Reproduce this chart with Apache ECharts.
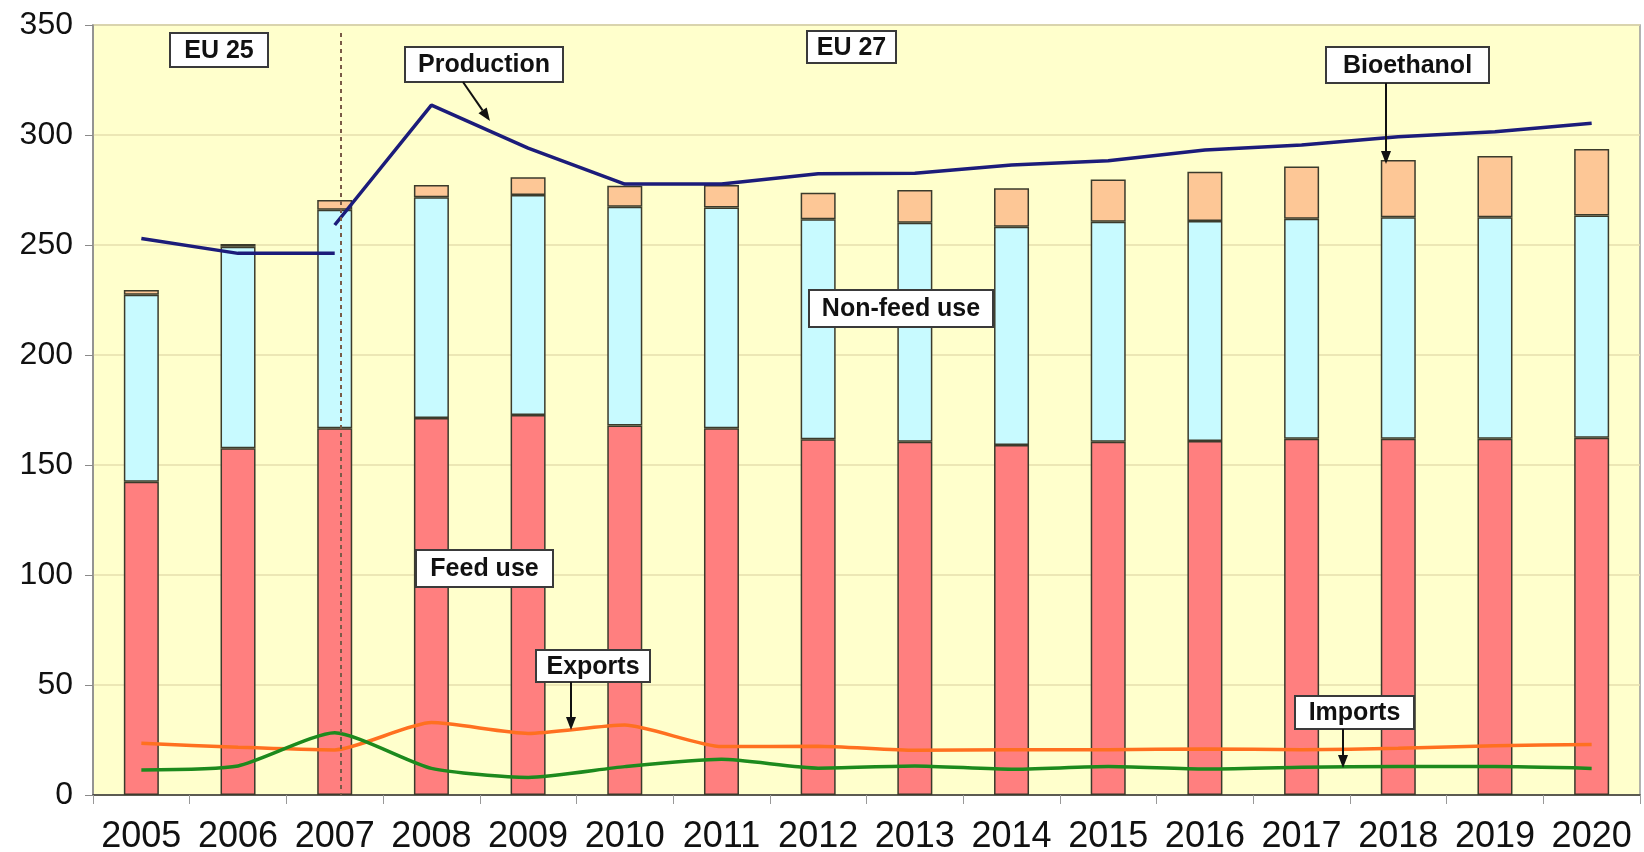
<!DOCTYPE html>
<html lang="en">
<head>
    <meta charset="UTF-8">
    <title>EU cereals use</title>
    <script src="https://cdn.jsdelivr.net/npm/echarts@6/dist/echarts.min.js"></script>
    <style>
        html, body { margin: 0; padding: 0; background: #ffffff; }
        #chart { width: 1644px; height: 852px; }
    </style>
</head>
<body>
<div id="chart"></div>
<script>
    // categories and values
    var years = ['2005', '2006', '2007', '2008', '2009', '2010', '2011', '2012',
                 '2013', '2014', '2015', '2016', '2017', '2018', '2019', '2020'];
    var feedUse = [142.4, 157.6, 166.7, 171.4, 172.7, 167.9, 166.7, 161.7,
                   160.6, 159.1, 160.6, 160.9, 161.9, 161.9, 161.9, 162.4];
    var nonFeedUse = [85, 91.6, 99.3, 100.3, 100, 99.5, 100.4, 100,
                      99.5, 99.2, 100, 100, 100, 100.7, 100.7, 101];
    var bioethanol = [2.2, 1.3, 4.5, 5.6, 8.1, 9.5, 10.2, 12.1,
                      14.9, 17.5, 19.2, 22.4, 23.8, 26, 27.9, 30.2];
    var productionEU25 = [253, 246.2, 246.2, '-', '-', '-', '-', '-',
                          '-', '-', '-', '-', '-', '-', '-', '-'];
    var productionEU27 = ['-', '-', 259.1, 313.6, 294, 277.7, 277.7, 282.4,
                          282.6, 286.4, 288.3, 293.2, 295.5, 299.2, 301.5, 305.3];
    var exportsVal = [23.5, 21.7, 20.5, 32.9, 28, 31.8, 22, 22.2,
                      20.3, 20.6, 20.6, 20.9, 20.6, 21.2, 22.4, 23];
    var importsVal = [11.4, 13.2, 28.3, 12.1, 8, 12.9, 16.2, 12.2,
                      13.2, 11.7, 12.9, 11.8, 12.6, 12.9, 12.9, 12.1];
    var yTicks = [0, 50, 100, 150, 200, 250, 300, 350];

    // text boxes on the plot: [label, x, y, w, h]
    var boxes = [
        ['EU 25', 170, 33, 98, 34],
        ['Production', 405, 47, 158, 35],
        ['EU 27', 807, 31, 89, 32],
        ['Bioethanol', 1326, 47, 163, 36],
        ['Non-feed use', 809, 290, 184, 37],
        ['Feed use', 416, 550, 137, 37],
        ['Exports', 536, 650, 114, 32],
        ['Imports', 1295, 696, 119, 33]
    ];
    // arrows: [x1, y1, x2, y2]
    var arrows = [
        [463, 82, 490, 121],
        [1386, 83, 1386, 164],
        [571, 682, 571, 730],
        [1343, 729, 1343, 768]
    ];

    var graphics = [];
    // EU25 / EU27 separator
    graphics.push({
        type: 'line', z: 5,
        shape: {x1: 341, y1: 33, x2: 341, y2: 795},
        style: {stroke: '#7a5a48', lineWidth: 2, lineDash: [4, 4]}
    });
    boxes.forEach(function (b) {
        graphics.push({
            type: 'rect', z: 20,
            shape: {x: b[1], y: b[2], width: b[3], height: b[4]},
            style: {fill: '#ffffff', stroke: '#3a3a3a', lineWidth: 2}
        });
        graphics.push({
            type: 'text', z: 21,
            x: b[1] + b[3] / 2, y: b[2] + b[4] / 2 + 1,
            style: {
                text: b[0], fill: '#111111',
                font: 'bold 25px "Liberation Sans", Arial, sans-serif',
                align: 'center', verticalAlign: 'middle'
            }
        });
    });
    arrows.forEach(function (a) {
        var dx = a[2] - a[0], dy = a[3] - a[1];
        var len = Math.sqrt(dx * dx + dy * dy);
        var ux = dx / len, uy = dy / len;
        var hl = 13, hw = 5;
        var bx = a[2] - ux * hl, by = a[3] - uy * hl;
        graphics.push({
            type: 'line', z: 20,
            shape: {x1: a[0], y1: a[1], x2: bx, y2: by},
            style: {stroke: '#111111', lineWidth: 2}
        });
        graphics.push({
            type: 'polygon', z: 20,
            shape: {points: [[a[2], a[3]], [bx - uy * hw, by + ux * hw], [bx + uy * hw, by - ux * hw]]},
            style: {fill: '#111111'}
        });
    });

    var barBorder = {borderColor: '#3b3b2c', borderWidth: 1.5};

    var chart = echarts.init(document.getElementById('chart'));
    var option = {
        backgroundColor: '#ffffff',
        animation: false,
        grid: {
            left: 93, right: 4, top: 25, bottom: 57,
            outerBoundsMode: 'none', containLabel: false,
            show: true, backgroundColor: '#FFFFCC', borderColor: '#9a9a9a', borderWidth: 1.5
        },
        xAxis: {
            type: 'category',
            data: years,
            axisLine: {lineStyle: {color: '#333333', width: 1.5}},
            axisTick: {show: true, length: 9, lineStyle: {color: '#999999'}},
            axisLabel: {
                interval: 0, margin: 24, color: '#111111',
                fontFamily: '"Liberation Sans Narrow", "Arial Narrow", "Liberation Sans", Arial, sans-serif',
                fontSize: 36
            }
        },
        yAxis: {
            type: 'value',
            min: yTicks[0], max: yTicks[yTicks.length - 1], interval: 50,
            axisLine: {show: true, lineStyle: {color: '#8a8a8a', width: 1.5}},
            axisTick: {show: true, length: 8, lineStyle: {color: '#8a8a8a'}},
            splitLine: {lineStyle: {color: '#e6dfae', width: 1.5}},
            axisLabel: {
                margin: 20, color: '#111111',
                fontFamily: '"Liberation Sans", Arial, sans-serif',
                fontSize: 32
            }
        },
        series: [
            {name: 'Feed use', type: 'bar', stack: 'use', data: feedUse, barWidth: 35,
             itemStyle: Object.assign({color: '#FF7F7F'}, barBorder)},
            {name: 'Non-feed use', type: 'bar', stack: 'use', data: nonFeedUse, barWidth: 35,
             itemStyle: Object.assign({color: '#C8FAFF'}, barBorder)},
            {name: 'Bioethanol', type: 'bar', stack: 'use', data: bioethanol, barWidth: 35,
             itemStyle: Object.assign({color: '#FDC796'}, barBorder)},
            {name: 'Production EU25', type: 'line', data: productionEU25, showSymbol: false,
             lineStyle: {color: '#1c1c7a', width: 3.5}, z: 4},
            {name: 'Production EU27', type: 'line', data: productionEU27, showSymbol: false,
             lineStyle: {color: '#1c1c7a', width: 3.5}, z: 4},
            {name: 'Exports', type: 'line', data: exportsVal, showSymbol: false, smooth: 0.2,
             lineStyle: {color: '#FF7020', width: 3.5}, z: 4},
            {name: 'Imports', type: 'line', data: importsVal, showSymbol: false, smooth: 0.2,
             lineStyle: {color: '#1d8a1d', width: 3.5}, z: 4}
        ],
        graphic: graphics
    };
    chart.setOption(option);
</script>
</body>
</html>
